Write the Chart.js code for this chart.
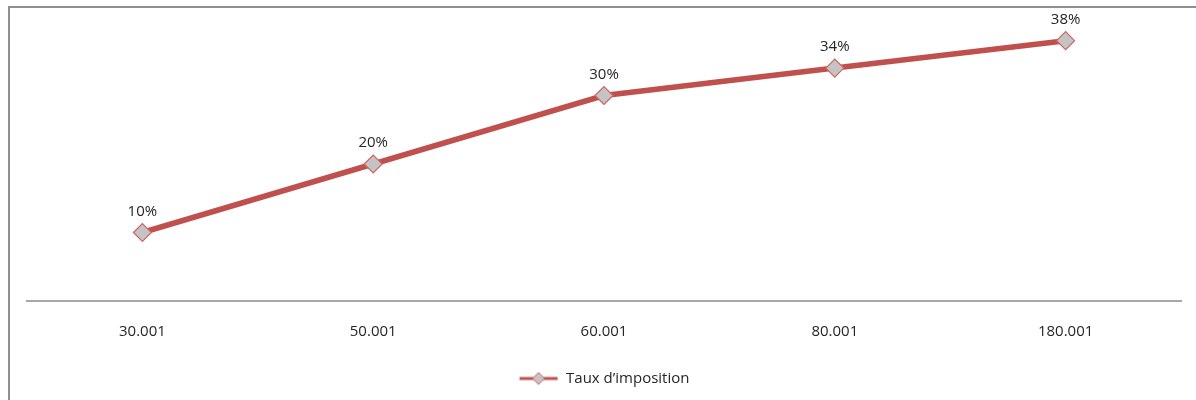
<!DOCTYPE html>
<html lang="fr">
<head>
    <meta charset="UTF-8">
    <title>Taux d'imposition</title>
    <style>
        body { margin: 0; background: #fff; overflow: hidden; }
        .frame {
            position: absolute; left: 8px; top: 6px;
            width: 1220px; height: 420px;
            border: 2px solid #8e8e8e;
        }
        .wrap { position: absolute; left: 0; top: 0; width: 1196px; height: 400px; }
    </style>
</head>
<body>

<div class="frame"></div>
<div class="wrap">
    <canvas id="myChart" width="1196" height="400"></canvas>
</div>

<script src="https://cdn.jsdelivr.net/npm/chart.js@4/dist/chart.umd.min.js"></script>
<script>
    // tranches de revenu et taux
    var categories = ['30.001', '50.001', '60.001', '80.001', '180.001'];
    var taux = [10, 20, 30, 34, 38];
    var seriesName = 'Taux d\u2019imposition';

    var lineColor = '#c0504d';
    var markerFill = '#c4c4c4';
    var markerBorder = '#d06464';
    var textColor = '#262626';
    var font = { family: 'Open Sans', size: 15 };

    // little legend icon: line + diamond
    function legendIcon() {
        var c = document.createElement('canvas');
        c.width = 40; c.height = 16;
        var g = c.getContext('2d');
        g.strokeStyle = lineColor;
        g.lineWidth = 3;
        g.beginPath(); g.moveTo(1, 8); g.lineTo(39, 8); g.stroke();
        g.fillStyle = markerFill;
        g.strokeStyle = markerBorder;
        g.lineWidth = 1;
        g.beginPath();
        g.moveTo(20, 2); g.lineTo(26, 8); g.lineTo(20, 14); g.lineTo(14, 8); g.closePath();
        g.fill(); g.stroke();
        return c;
    }

    var valueLabels = {
        id: 'valueLabels',
        afterDatasetsDraw: function (chart) {
            var ctx = chart.ctx;
            var meta = chart.getDatasetMeta(0);
            ctx.save();
            ctx.font = font.size + 'px ' + font.family;
            ctx.fillStyle = textColor;
            ctx.textAlign = 'center';
            ctx.textBaseline = 'middle';
            meta.data.forEach(function (pt, i) {
                ctx.fillText(taux[i] + '%', pt.x, pt.y - 21);
            });
            ctx.restore();
        }
    };

    var ctx = document.getElementById('myChart').getContext('2d');
    var myChart = new Chart(ctx, {
        type: 'line',
        data: {
            labels: categories,
            datasets: [{
                label: seriesName,
                data: taux,
                borderColor: lineColor,
                borderWidth: 5.5,
                backgroundColor: markerFill,
                pointStyle: 'rectRot',
                pointRadius: 9,
                pointHoverRadius: 9,
                pointBackgroundColor: markerFill,
                pointBorderColor: markerBorder,
                pointBorderWidth: 1.2,
                tension: 0
            }]
        },
        options: {
            responsive: false,
            animation: false,
            layout: { padding: { left: 27, right: 15, top: 27, bottom: 4 } },
            scales: {
                x: {
                    offset: true,
                    grid: { display: false },
                    border: { display: true, color: '#a8a8a8', width: 2 },
                    ticks: { color: textColor, font: font, padding: 14 },
                    afterFit: function (scale) { scale.height += 6; }
                },
                y: {
                    display: false,
                    min: 0,
                    max: 40
                }
            },
            plugins: {
                legend: {
                    position: 'bottom',
                    labels: {
                        usePointStyle: true,
                        pointStyle: legendIcon(),
                        pointStyleWidth: 40,
                        color: textColor,
                        font: font,
                        padding: 10
                    }
                },
                tooltip: { enabled: false }
            }
        },
        plugins: [valueLabels]
    });
</script>

</body>
</html>
